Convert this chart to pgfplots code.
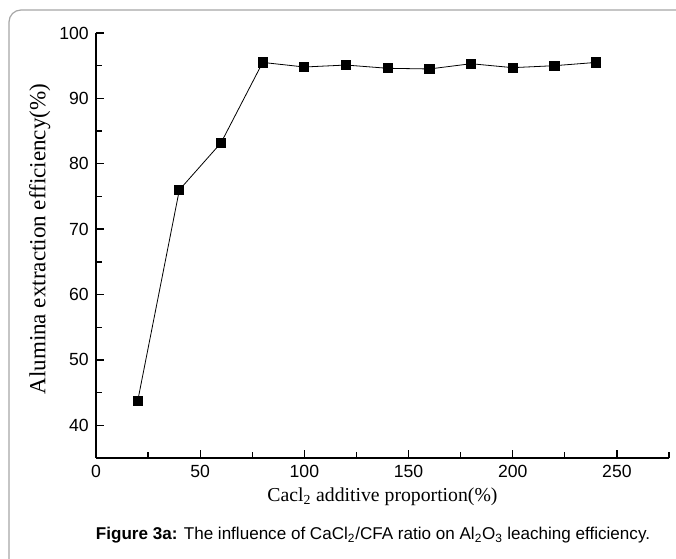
\documentclass[border=0pt]{standalone}
\usepackage{fontspec}
\setmainfont{Liberation Serif}
\newfontfamily\arial{Liberation Sans}
\usepackage{pgfplots}
\pgfplotsset{compat=1.18}
\definecolor{Frame}{HTML}{A6A6A6}

\begin{document}
\begin{tikzpicture}
  % page = 676x559 px, 1 px = 0.75pt
  \useasboundingbox (0,0) rectangle (507pt,419.25pt);
  \clip (0,0) rectangle (507pt,419.25pt);
  \draw[Frame,line width=0.9pt,rounded corners=9pt] (6.75pt,411.75pt) rectangle (530pt,-20pt);
  \begin{axis}[
      scale only axis,
      width=429.75pt,height=318.75pt,
      at={(72pt,75.75pt)},anchor=south west,
      xmin=0,xmax=275,ymin=35,ymax=100,
      axis lines=left,axis line style={line width=1.1pt,-},
      xtick={0,50,100,150,200,250},
      minor xtick={25,75,125,175,225,275},
      ytick={40,50,60,70,80,90,100},
      minor ytick={45,55,65,75,85,95},
      tick align=inside,
      major tick length=6pt,minor tick length=4.5pt,
      every tick/.style={black,line width=1pt},
      tick label style={font=\arial\fontsize{13.2}{14}\selectfont},
      /pgf/number format/assume math mode=true,
      xticklabel style={yshift=-2pt},
      yticklabel style={xshift=-2pt},
      xlabel={Cacl\textsubscript{2} additive proportion(\%)},
      ylabel={Alumina extraction efficiency(\%)},
      xlabel style={font=\fontsize{14.8}{16}\selectfont,
        at={(axis description cs:0.5,-0.092)},anchor=center},
      ylabel style={font=\fontsize{17.3}{18}\selectfont,
        at={(axis description cs:-0.098,0.515)},anchor=center},
      clip=false
    ]
    \addplot[black,line width=0.6pt,mark=square*,mark size=3.4pt,
             mark options={solid,fill=black}]
      coordinates {(20,43.7)(40,76.0)(60,83.2)(80,95.5)(100,94.8)(120,95.1)
                   (140,94.6)(160,94.5)(180,95.3)(200,94.7)(220,95.0)(240,95.5)};
  \end{axis}
  \node[font=\arial\fontsize{12.8}{13}\selectfont,anchor=center] at (279.75pt,18pt)
    {\textbf{Figure 3a:} The influence of CaCl\textsubscript{2}/CFA ratio on Al\textsubscript{2}O\textsubscript{3} leaching efficiency.};
\end{tikzpicture}
\end{document}
